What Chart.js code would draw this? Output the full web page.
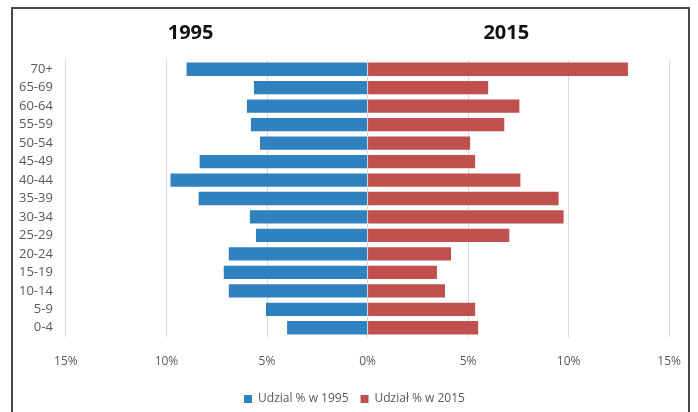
<!DOCTYPE html>
<html>
<head>
<meta charset="utf-8">
<script src="https://cdn.jsdelivr.net/npm/chart.js@4"></script>
<style>
    html, body { margin: 0; padding: 0; background: #fff; }
    #wrap { position: relative; width: 698px; height: 412px; overflow: hidden; }
    #frame { position: absolute; left: 11px; top: 7px; width: 679px; height: 420px; border: 2px solid #4a4a4a; box-sizing: border-box; }
    canvas { position: absolute; left: 0; top: 0; }
</style>
</head>
<body>
<div id="wrap">
    <div id="frame"></div>
    <canvas id="pyramid" width="698" height="412"></canvas>
</div>
<script>
// age groups, top row first
const ageGroups = ['70+', '65-69', '60-64', '55-59', '50-54', '45-49', '40-44', '35-39',
    '30-34', '25-29', '20-24', '15-19', '10-14', '5-9', '0-4'];

// share of population in %
const share1995 = [9.0, 5.65, 6.0, 5.8, 5.35, 8.35, 9.8, 8.4, 5.85, 5.55, 6.9, 7.15, 6.9, 5.05, 4.0];
const share2015 = [12.95, 6.0, 7.55, 6.8, 5.1, 5.35, 7.6, 9.5, 9.75, 7.05, 4.15, 3.45, 3.85, 5.35, 5.5];

const seriesNames = ['Udzial % w 1995', 'Udział % w 2015'];
const sideTitles = ['1995', '2015'];
const xTicks = [-15, -10, -5, 0, 5, 10, 15];

document.addEventListener('DOMContentLoaded', () => {
    const ctx = document.getElementById('pyramid');

    // the two big headings above each half, and legend nudged a bit right
    const sideTitlePlugin = {
        id: 'sideTitles',
        afterLayout(chart) {
            chart.legend.left += 13;
            chart.legend.right += 13;
        },
        afterDraw(chart) {
            const c = chart.ctx;
            const x = chart.scales.x;
            c.save();
            c.font = "bold 20px 'Open Sans', sans-serif";
            c.fillStyle = '#111';
            c.textAlign = 'center';
            c.textBaseline = 'middle';
            c.fillText(sideTitles[0], x.getPixelForValue(-8.8), 33);
            c.fillText(sideTitles[1], x.getPixelForValue(6.9), 33);
            c.restore();
        }
    };

    new Chart(ctx, {
        type: 'bar',
        data: {
            labels: ageGroups,
            datasets: [{
                label: seriesNames[0],
                data: share1995.map(v => -v),
                backgroundColor: '#2F81C0',
                barPercentage: 0.72,
                categoryPercentage: 1.0
            }, {
                label: seriesNames[1],
                data: share2015,
                backgroundColor: '#C0504D',
                barPercentage: 0.72,
                categoryPercentage: 1.0
            }]
        },
        options: {
            indexAxis: 'y',
            responsive: false,
            animation: false,
            layout: {
                padding: { top: 60, left: 6, right: 21, bottom: -3 }
            },
            scales: {
                x: {
                    stacked: true,
                    min: -15,
                    max: 15,
                    afterBuildTicks: (scale) => {
                        scale.ticks = xTicks.map(v => ({ value: v }));
                    },
                    afterFit: (scale) => { scale.height = 44; },
                    ticks: {
                        callback: (v) => Math.abs(v) + '%',
                        color: '#595959',
                        font: { family: "'Open Sans', sans-serif", size: 12 },
                        padding: 17
                    },
                    grid: { color: '#D9D9D9', drawTicks: false },
                    border: { display: false }
                },
                y: {
                    stacked: true,
                    ticks: {
                        autoSkip: false,
                        color: '#595959',
                        font: { family: "'Open Sans', sans-serif", size: 13 },
                        padding: 13
                    },
                    grid: { display: false, drawTicks: false },
                    border: { display: false }
                }
            },
            plugins: {
                legend: {
                    position: 'bottom',
                    labels: {
                        boxWidth: 8,
                        boxHeight: 8,
                        color: '#595959',
                        font: { family: "'Open Sans', sans-serif", size: 12 },
                        padding: 12
                    }
                },
                tooltip: { enabled: false }
            }
        },
        plugins: [sideTitlePlugin]
    });
});
</script>
</body>
</html>
